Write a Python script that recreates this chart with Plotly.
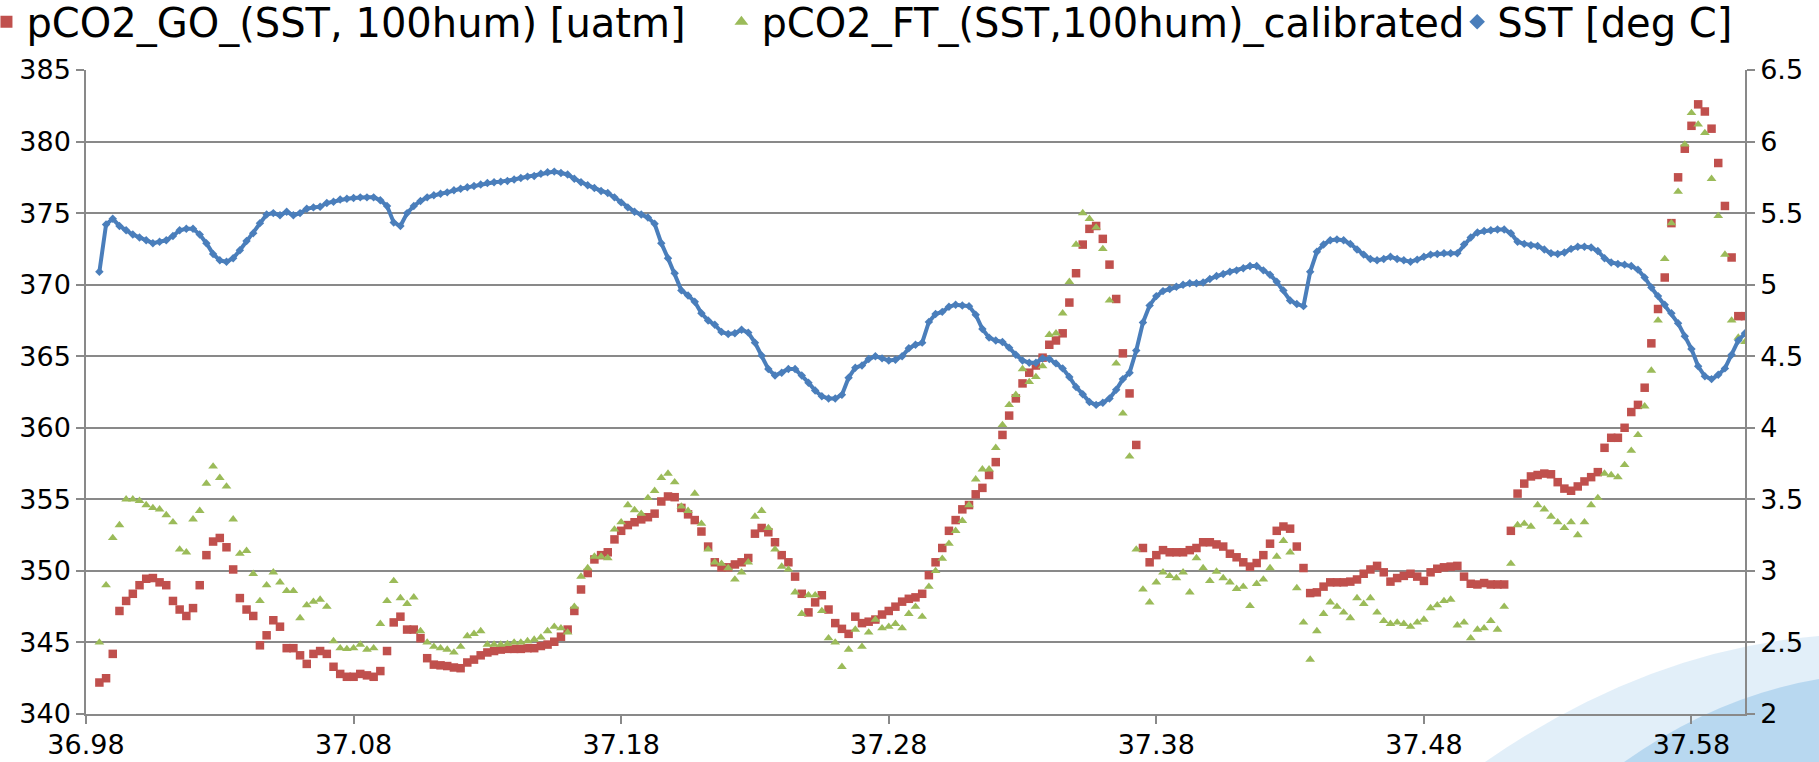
import plotly.graph_objects as go

# sample times (decimal day)
X = [36.985, 36.9875, 36.99, 36.9925, 36.995, 36.9975, 37.0, 37.0025, 37.005, 37.0075,
     37.01, 37.0125, 37.015, 37.0175, 37.02, 37.0225, 37.025, 37.0275, 37.03, 37.0325,
     37.035, 37.0375, 37.04, 37.0425, 37.045, 37.0475, 37.05, 37.0525, 37.055, 37.0575,
     37.06, 37.0625, 37.065, 37.0675, 37.07,
     37.0725, 37.075, 37.0775, 37.08, 37.0825, 37.085, 37.0875, 37.09, 37.0925, 37.095,
     37.0975, 37.1, 37.1025, 37.105, 37.1075, 37.11, 37.1125, 37.115, 37.1175, 37.12,
     37.1225, 37.125, 37.1275, 37.13, 37.1325, 37.135, 37.1375, 37.14, 37.1425, 37.145,
     37.1475, 37.15, 37.1525, 37.155, 37.1575,
     37.16, 37.1625, 37.165, 37.1675, 37.17, 37.1725, 37.175, 37.1775, 37.18, 37.1825,
     37.185, 37.1875, 37.19, 37.1925, 37.195, 37.1975, 37.2, 37.2025, 37.205, 37.2075,
     37.21, 37.2125, 37.215, 37.2175, 37.22, 37.2225, 37.225, 37.2275, 37.23, 37.2325,
     37.235, 37.2375, 37.24, 37.2425, 37.245, 37.2475, 37.25,
     37.2525, 37.255, 37.2575, 37.26, 37.2625, 37.265, 37.2675, 37.27, 37.2725, 37.275,
     37.2775, 37.28, 37.2825, 37.285, 37.2875, 37.29, 37.2925, 37.295, 37.2975, 37.3,
     37.3025, 37.305, 37.3075, 37.31, 37.3125, 37.315, 37.3175, 37.32, 37.3225, 37.325,
     37.3275, 37.33, 37.3325, 37.335, 37.3375, 37.34,
     37.3425, 37.345, 37.3475, 37.35, 37.3525, 37.355, 37.3575, 37.36, 37.3625, 37.365,
     37.3675, 37.37, 37.3725, 37.375, 37.3775, 37.38, 37.3825, 37.385, 37.3875, 37.39,
     37.3925, 37.395, 37.3975, 37.4, 37.4025, 37.405, 37.4075, 37.41, 37.4125, 37.415,
     37.4175, 37.42, 37.4225, 37.425, 37.4275, 37.43,
     37.4325, 37.435, 37.4375, 37.44, 37.4425, 37.445, 37.4475, 37.45, 37.4525, 37.455,
     37.4575, 37.46, 37.4625, 37.465, 37.4675, 37.47, 37.4725, 37.475, 37.4775, 37.48,
     37.4825, 37.485, 37.4875, 37.49, 37.4925, 37.495, 37.4975, 37.5, 37.5025, 37.505,
     37.5075, 37.51, 37.5125, 37.515, 37.5175,
     37.52, 37.5225, 37.525, 37.5275, 37.53, 37.5325, 37.535, 37.5375, 37.54, 37.5425,
     37.545, 37.5475, 37.55, 37.5525, 37.555, 37.5575, 37.56, 37.5625, 37.565, 37.5675,
     37.57, 37.5725, 37.575, 37.5775, 37.58, 37.5825, 37.585, 37.5875, 37.59, 37.5925,
     37.595, 37.5975, 37.6]

# pCO2_GO_(SST, 100hum) [uatm]
PCO2_GO = [342.2, 342.5, 344.2, 347.2, 347.9, 348.4, 349.0, 349.45, 349.5, 349.2,
           349.0, 347.9, 347.3, 346.85, 347.4, 349.0, 351.1, 352.05, 352.3, 351.65,
           350.1, 348.1, 347.3, 346.85, 344.8, 345.5, 346.55, 346.1, 344.6, 344.6,
           344.1, 343.5, 344.2, 344.4, 344.2,
           343.3, 342.8, 342.6, 342.6, 342.8, 342.7, 342.6, 343.0, 344.4, 346.4,
           346.8, 345.9, 345.9, 345.3, 343.9, 343.45, 343.4, 343.35, 343.25, 343.2,
           343.6, 343.8, 344.1, 344.3, 344.4, 344.5, 344.55, 344.55, 344.55, 344.6,
           344.6, 344.75, 344.85, 345.05, 345.4,
           345.9, 347.2, 348.7, 349.85, 350.8, 351.1, 351.3, 352.2, 352.8, 353.2,
           353.4, 353.6, 353.75, 354.0, 354.85, 355.2, 355.15, 354.4, 353.95, 353.55,
           352.75, 351.7, 350.6, 350.25, 350.25, 350.45, 350.6, 350.9, 352.6, 353.0,
           352.7, 352.0, 351.1, 350.6, 349.6, 348.4, 347.1,
           347.8, 348.3, 347.3, 346.35, 345.95, 345.6, 346.8, 346.35, 346.45, 346.6,
           346.95, 347.2, 347.5, 347.85, 348.05, 348.15, 348.4, 349.7, 350.6, 351.6,
           352.8, 353.55, 354.3, 354.6, 355.35, 355.8, 356.7, 357.6, 359.5, 360.85,
           362.05, 363.1, 363.85, 364.35, 364.9, 365.8,
           366.1, 366.6, 368.75, 370.8, 372.8, 373.9, 374.1, 373.2, 371.4, 369.0,
           365.2, 362.4, 358.8, 351.6, 350.6, 351.1, 351.45, 351.3, 351.3, 351.3,
           351.45, 351.6, 352.0, 352.0, 351.85, 351.7, 351.2, 350.95, 350.6, 350.3,
           350.55, 351.1, 351.9, 352.8, 353.1, 352.95,
           351.7, 350.2, 348.45, 348.5, 348.9, 349.2, 349.2, 349.2, 349.25, 349.4,
           349.8, 350.1, 350.35, 349.9, 349.25, 349.5, 349.65, 349.8, 349.6, 349.3,
           349.9, 350.15, 350.25, 350.3, 350.35, 349.6, 349.1, 349.05, 349.15, 349.05,
           349.05, 349.05, 352.8, 355.4, 356.1,
           356.6, 356.7, 356.8, 356.75, 356.2, 355.75, 355.6, 355.9, 356.25, 356.55,
           356.9, 358.6, 359.3, 359.3, 360.0, 361.1, 361.6, 362.8, 365.9, 368.3,
           370.5, 374.3, 377.5, 379.5, 381.1, 382.6, 382.1, 380.9, 378.5, 375.5,
           371.9, 367.8, 367.8]

# pCO2_FT_(SST,100hum)_calibrated
PCO2_FT = [345.0, 349.0, 352.3, 353.2, 355.0, 355.0, 354.9, 354.6, 354.4, 354.3,
           353.9, 353.4, 351.5, 351.3, 353.6, 354.2, 356.1, 357.3, 356.5, 355.9,
           353.6, 351.2, 351.4, 349.8, 347.9, 349.0, 349.9, 349.2, 348.6, 348.6,
           346.7, 347.6, 347.85, 348.0, 347.5,
           345.1, 344.6, 344.55, 344.6, 344.85, 344.5, 344.6, 346.3, 347.9, 349.3,
           348.1, 347.7, 348.15, 345.8, 345.0, 344.7, 344.6, 344.5, 344.3, 344.7,
           345.45, 345.6, 345.8, 344.85, 344.85, 344.85, 344.9, 345.0, 345.0, 345.1,
           345.2, 345.35, 345.8, 346.1, 346.0,
           345.7, 347.5, 349.6, 350.2, 351.0, 351.0, 350.9, 352.9, 353.4, 354.6,
           354.25, 354.0, 355.1, 355.6, 356.5, 356.8, 356.2, 354.5, 354.2, 355.4,
           353.3, 351.5, 350.6, 350.5, 350.2, 349.4, 349.9, 350.6, 353.8, 354.2,
           353.0, 351.5, 350.3, 350.1, 348.5, 347.0, 348.3,
           348.3, 347.2, 345.3, 345.0, 343.3, 344.5, 345.9, 344.7, 345.7, 346.6,
           346.0, 346.1, 346.3, 346.0, 347.0, 347.5, 346.8, 348.9, 350.0, 350.85,
           351.9, 352.8, 353.5, 354.6, 356.4, 357.1, 357.1, 358.6, 360.2, 361.6,
           362.3, 364.1, 363.2, 363.55, 364.3, 366.5,
           366.6, 368.0, 370.2, 372.8, 375.0, 374.6, 374.0, 372.5, 368.9, 364.5,
           361.0, 358.0, 351.5, 348.7, 347.8, 349.2, 349.9, 349.65, 349.5, 349.9,
           348.5, 350.9, 350.2, 349.3, 349.95, 349.5, 349.2, 348.75, 348.9, 347.55,
           349.1, 349.4, 350.2, 351.0, 352.1, 351.3,
           348.8, 346.4, 343.8, 345.8, 347.0, 347.8, 347.5, 347.1, 346.7, 348.1,
           347.7, 348.1, 347.1, 346.5, 346.3, 346.4, 346.3, 346.1, 346.4, 346.6,
           347.4, 347.6, 347.9, 348.0, 346.2, 346.4, 345.3, 345.9, 346.0, 346.5,
           345.9, 347.5, 350.5, 353.2, 353.3,
           353.1, 354.6, 354.3, 353.8, 353.4, 353.0, 353.4, 352.5, 353.4, 354.6,
           355.1, 356.8, 356.7, 356.55, 357.4, 358.4, 359.5, 361.5, 364.0, 367.5,
           371.8, 374.3, 376.5, 379.8, 382.0, 381.2, 380.6, 377.4, 374.8, 372.1,
           367.5, 366.3, 366.0]

# SST [deg C]
SST = [5.09, 5.42, 5.46, 5.41, 5.38, 5.35, 5.33, 5.31, 5.29, 5.30,
       5.31, 5.34, 5.38, 5.39, 5.39, 5.35, 5.29, 5.215, 5.17, 5.16,
       5.185, 5.24, 5.305, 5.36, 5.43, 5.49, 5.50, 5.485, 5.51, 5.485,
       5.50, 5.53, 5.54, 5.545, 5.57,
       5.58, 5.595, 5.60, 5.605, 5.61, 5.61, 5.61, 5.59, 5.55, 5.435,
       5.41, 5.50, 5.55, 5.585, 5.61, 5.625, 5.635, 5.645, 5.66, 5.67,
       5.68, 5.69, 5.70, 5.71, 5.715, 5.72, 5.725, 5.735, 5.745, 5.755,
       5.76, 5.775, 5.785, 5.79, 5.78,
       5.77, 5.74, 5.715, 5.695, 5.675, 5.655, 5.64, 5.61, 5.575, 5.54,
       5.51, 5.49, 5.47, 5.425, 5.29, 5.185, 5.08, 4.96, 4.925, 4.88,
       4.80, 4.75, 4.72, 4.67, 4.655, 4.66, 4.685, 4.665, 4.595, 4.505,
       4.41, 4.365, 4.385, 4.41, 4.41, 4.365, 4.315,
       4.26, 4.22, 4.205, 4.205, 4.23, 4.35, 4.42, 4.435, 4.48, 4.50,
       4.485, 4.47, 4.475, 4.50, 4.555, 4.58, 4.595, 4.74, 4.795, 4.81,
       4.845, 4.86, 4.855, 4.85, 4.79, 4.69, 4.63, 4.61, 4.60, 4.56,
       4.51, 4.47, 4.455, 4.455, 4.485, 4.48,
       4.45, 4.415, 4.355, 4.285, 4.235, 4.18, 4.16, 4.175, 4.205, 4.265,
       4.34, 4.385, 4.54, 4.735, 4.855, 4.92, 4.955, 4.97, 4.985, 5.00,
       5.01, 5.01, 5.015, 5.04, 5.06, 5.075, 5.09, 5.10, 5.115, 5.13,
       5.13, 5.10, 5.07, 5.02, 4.96, 4.89,
       4.865, 4.85, 5.09, 5.23, 5.28, 5.31, 5.315, 5.31, 5.285, 5.245,
       5.21, 5.18, 5.17, 5.18, 5.195, 5.18, 5.17, 5.16, 5.175, 5.195,
       5.21, 5.215, 5.22, 5.22, 5.22, 5.28, 5.33, 5.365, 5.375, 5.38,
       5.385, 5.385, 5.36, 5.30, 5.285,
       5.275, 5.27, 5.245, 5.22, 5.215, 5.225, 5.25, 5.265, 5.265, 5.26,
       5.235, 5.185, 5.155, 5.145, 5.14, 5.13, 5.105, 5.05, 4.98, 4.92,
       4.86, 4.80, 4.73, 4.64, 4.55, 4.43, 4.36, 4.34, 4.37, 4.415,
       4.51, 4.61, 4.66]

X_TICKS = [36.98, 37.08, 37.18, 37.28, 37.38, 37.48, 37.58]
X_TICK_TEXT = ["36.98", "37.08", "37.18", "37.28", "37.38", "37.48", "37.58"]

assert len(X) == len(PCO2_GO) == len(PCO2_FT) == len(SST), (len(X), len(PCO2_GO), len(PCO2_FT), len(SST))

AXIS_GREY = "#898989"
FONT = "DejaVu Sans"
RED = "#C0504D"
GREEN = "#9BBB59"
BLUE = "#4A7EBB"

fig = go.Figure()
fig.add_trace(go.Scatter(
    x=X, y=PCO2_GO, mode="markers", name="pCO2_GO_(SST, 100hum) [uatm]", legend="legend",
    marker=dict(symbol="square", size=8.5, color=RED, line=dict(width=0)),
))
fig.add_trace(go.Scatter(
    x=X, y=PCO2_FT, mode="markers", name="pCO2_FT_(SST,100hum)_calibrated", legend="legend2",
    marker=dict(symbol="triangle-up", size=8.5, color=GREEN, line=dict(width=0)),
))
# SST drawn as a dense trail of small diamonds (line underlay keeps it continuous)
fig.add_trace(go.Scatter(
    x=X, y=SST, mode="lines", yaxis="y2", showlegend=False, hoverinfo="skip",
    line=dict(color=BLUE, width=4),
))
fig.add_trace(go.Scatter(
    x=X, y=SST, mode="markers", name="SST [deg C]", yaxis="y2", legend="legend3",
    marker=dict(symbol="diamond", size=6.5, color=BLUE, line=dict(width=0)),
))

LEG_FONT = dict(family=FONT, size=40, color="#000000")
leg_common = dict(orientation="h", xanchor="left", yanchor="middle", y=1.075,
                  font=LEG_FONT, bgcolor="rgba(0,0,0,0)", itemsizing="constant")

# decorative light-blue swoosh of the slide background (bottom-right corner)
SWOOSH = [
    dict(path="M 0.8433,-0.0745 Q 0.9409,0.0994 1.0446,0.1211 L 1.0446,-0.0745 Z",
         color="rgba(190,219,242,0.45)"),
    dict(path="M 0.9271,-0.0745 Q 0.9831,0.028 1.0446,0.0543 L 1.0446,-0.0745 Z",
         color="rgba(150,196,234,0.55)"),
]

TICK_FONT = dict(family=FONT, size=27, color="#000000")

fig.update_layout(
    width=1819, height=762,
    margin=dict(l=86, r=74, t=70, b=48, autoexpand=False),
    paper_bgcolor="white", plot_bgcolor="rgba(0,0,0,0)",
    font=dict(family=FONT, size=27, color="#000000"),
    showlegend=True,
    legend=dict(x=-0.0600, **leg_common),
    legend2=dict(x=0.3830, **leg_common),
    legend3=dict(x=0.8265, **leg_common),
    shapes=[dict(type="path", xref="paper", yref="paper", path=s["path"],
                 fillcolor=s["color"], line=dict(width=0), layer="below") for s in SWOOSH],
    xaxis=dict(
        range=[36.98, 37.6], tickmode="array", tickvals=X_TICKS, ticktext=X_TICK_TEXT,
        showgrid=False, zeroline=False, showline=True, linecolor=AXIS_GREY, linewidth=1.5,
        ticks="outside", ticklen=8, tickwidth=1.5, tickcolor=AXIS_GREY, automargin=False,
        ticklabelstandoff=-2,
        tickfont=TICK_FONT,
    ),
    yaxis=dict(
        range=[340, 385], dtick=5, tick0=340, automargin=False,
        showgrid=True, gridcolor=AXIS_GREY, gridwidth=1.5, zeroline=False,
        showline=True, linecolor=AXIS_GREY, linewidth=1.5,
        ticks="outside", ticklen=8, tickwidth=1.5, tickcolor=AXIS_GREY,
        tickfont=TICK_FONT,
    ),
    yaxis2=dict(
        range=[2, 6.5], dtick=0.5, tick0=2, overlaying="y", side="right", automargin=False,
        showgrid=False, zeroline=False, showline=True, linecolor=AXIS_GREY, linewidth=1.5,
        ticks="outside", ticklen=8, tickwidth=1.5, tickcolor=AXIS_GREY,
        tickfont=TICK_FONT,
    ),
)

fig.write_html("out.html")
